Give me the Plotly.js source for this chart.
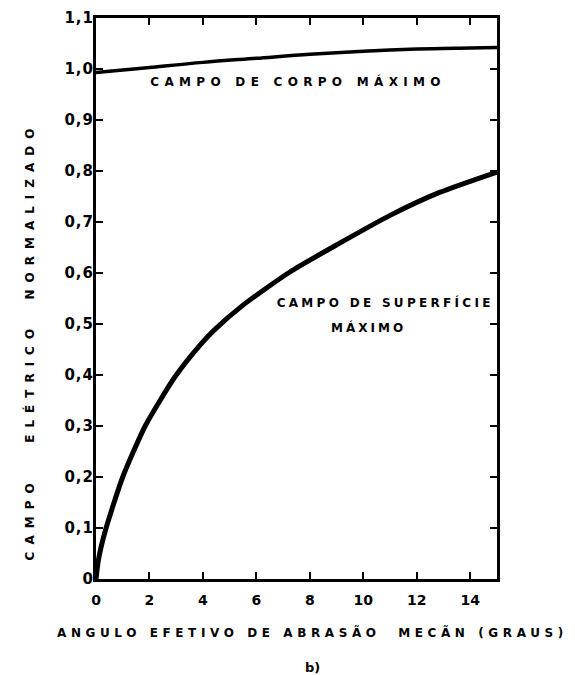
<!DOCTYPE html>
<html>
<head>
<meta charset="utf-8">
<script src="https://cdn.plot.ly/plotly-3.0.1.min.js"></script>
<style>
  html, body { margin: 0; padding: 0; background: #fff; }
  #chart { width: 575px; height: 675px; }
  /* spaced-out lettering of the hand-lettered labels */
  .annotation[data-index="0"] .annotation-text { letter-spacing: 5.3px; }
  .annotation[data-index="1"] .annotation-text { letter-spacing: 3.3px; }
  .annotation[data-index="2"] .annotation-text { letter-spacing: 3px; }
  .annotation[data-index="3"] .annotation-text { letter-spacing: 4.6px; }
  .annotation[data-index="4"] .annotation-text { letter-spacing: 7px; }
  .js-plotly-plot .ytick text { letter-spacing: 1px; }
</style>
</head>
<body>
<div id="chart"></div>
<script>
// Effective mechanical abrasion angle (degrees)
const bodyAngle = [0, 1, 2, 4, 6, 8, 10, 12, 14, 15];
// Maximum body field, normalized
const bodyField = [0.993, 0.998, 1.003, 1.013, 1.021, 1.029, 1.035, 1.039, 1.041, 1.042];

const surfAngle = [0, 0.1, 0.35, 1.0, 1.85, 2.95, 3.9, 4.4, 5.5, 7.25, 9.1, 11.0, 12.85, 15];
// Maximum surface field, normalized
const surfField = [0, 0.04, 0.095, 0.2, 0.301, 0.396, 0.459, 0.487, 0.537, 0.602, 0.658, 0.713, 0.758, 0.798];

const xTickVals = [0, 2, 4, 6, 8, 10, 12, 14];
const xTickText = ['0', '2', '4', '6', '8', '10', '12', '14'];
const yTickVals = [0, 0.1, 0.2, 0.3, 0.4, 0.5, 0.6, 0.7, 0.8, 0.9, 1.0, 1.1];
const yTickText = ['0', '0,1', '0,2', '0,3', '0,4', '0,5', '0,6', '0,7', '0,8', '0,9', '1,0', '1,1'];

const FONT = 'DejaVu Sans, Arial, sans-serif';
const NB = '\u00A0';
const labelFont = { family: FONT, size: 12, color: '#000', weight: 'bold' };

const traces = [
  {
    x: bodyAngle, y: bodyField, mode: 'lines', type: 'scatter',
    line: { color: '#000', width: 3.5, shape: 'spline' },
    hoverinfo: 'skip'
  },
  {
    x: surfAngle, y: surfField, mode: 'lines', type: 'scatter',
    line: { color: '#000', width: 5, shape: 'spline', smoothing: 0.6 },
    hoverinfo: 'skip'
  }
];

const layout = {
  width: 575, height: 675,
  margin: { l: 96, r: 78, t: 18, b: 96 },
  paper_bgcolor: '#fff', plot_bgcolor: '#fff',
  showlegend: false,
  font: { family: FONT, color: '#000', size: 13 },
  xaxis: {
    range: [0, 15],
    tickvals: xTickVals, ticktext: xTickText,
    ticks: 'inside', ticklen: 7, tickwidth: 2, tickcolor: '#000',
    showline: true, linewidth: 3, linecolor: '#000', mirror: 'ticks',
    showgrid: false, zeroline: false,
    ticklabelstandoff: 6,
    tickfont: { family: FONT, size: 14, color: '#000', weight: 'bold' }
  },
  yaxis: {
    range: [0, 1.1],
    tickvals: yTickVals, ticktext: yTickText,
    ticks: 'inside', ticklen: 7, tickwidth: 2, tickcolor: '#000',
    showline: true, linewidth: 3, linecolor: '#000', mirror: 'ticks',
    showgrid: false, zeroline: false,
    ticklabelstandoff: -4,
    tickfont: { family: FONT, size: 15, color: '#000', weight: 'bold' }
  },
  annotations: [
    {
      x: 7.56, y: 0.975, xref: 'x', yref: 'y', showarrow: false,
      text: 'CAMPO DE CORPO MÁXIMO', font: labelFont
    },
    {
      x: 10.8, y: 0.543, xref: 'x', yref: 'y', showarrow: false,
      text: 'CAMPO DE SUPERFÍCIE', font: labelFont
    },
    {
      x: 10.18, y: 0.494, xref: 'x', yref: 'y', showarrow: false,
      text: 'MÁXIMO', font: labelFont
    },
    {
      // x-axis title
      x: 0.539, y: 0, xref: 'paper', yref: 'paper', showarrow: false,
      yanchor: 'middle', yshift: -53,
      text: 'ANGULO EFETIVO DE ABRASÃO' + NB + NB + 'MECÃN (GRAUS)',
      font: labelFont
    },
    {
      // y-axis title
      x: -0.19, y: 0.425, xref: 'paper', yref: 'paper', showarrow: false,
      textangle: -90,
      text: 'CAMPO' + NB + NB + NB + 'ELÉTRICO' + NB + NB + 'NORMALIZADO',
      font: labelFont
    },
    {
      x: 0.541, y: 0, xref: 'paper', yref: 'paper', showarrow: false,
      yanchor: 'middle', yshift: -88,
      text: 'b)',
      font: { family: FONT, size: 13, color: '#000', weight: 'bold' }
    }
  ]
};

Plotly.newPlot('chart', traces, layout, { staticPlot: true, displayModeBar: false });
</script>
</body>
</html>
